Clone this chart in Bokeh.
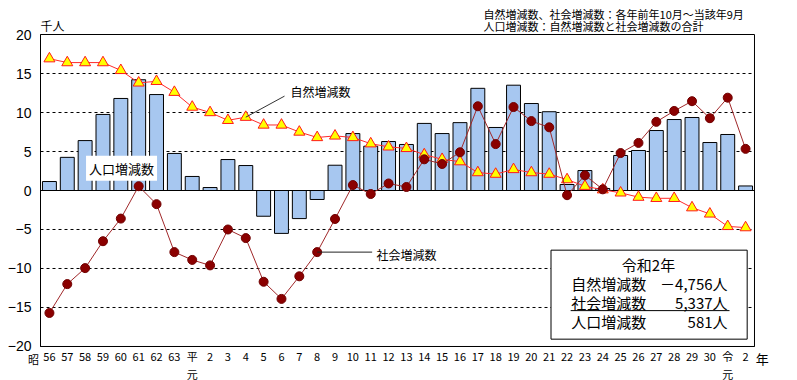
from bokeh.plotting import figure
from bokeh.models import FixedTicker, Label, BoxAnnotation, Arrow
from bokeh.embed import file_html
from bokeh.resources import INLINE

# ---- data (thousand persons) ----
tick_labels = ["56", "57", "58", "59", "60", "61", "62", "63",
               "平", "2", "3", "4", "5", "6", "7", "8", "9", "10",
               "11", "12", "13", "14", "15", "16", "17", "18", "19", "20",
               "21", "22", "23", "24", "25", "26", "27", "28", "29", "30",
               "令", "2"]
# second line of the era-start labels (平元, 令元)
tick_second_line = {8: "元", 38: "元"}
total = [1.15, 4.25, 6.4, 9.75, 11.8, 14.2, 12.3, 4.75,
         1.8, 0.38, 3.97, 3.2, -3.3, -5.5, -3.6, -1.15, 3.24, 7.3,
         5.68, 6.28, 5.9, 8.6, 7.3, 8.7, 13.1, 8.08, 13.5, 11.15,
         10.1, 0.77, 2.56, 0.26, 4.49, 5.13, 7.69, 9.1, 9.36, 6.15,
         7.18, 0.581]
natural = [16.9, 16.4, 16.4, 16.4, 15.4, 13.8, 14.0, 12.6,
           10.7, 10.0, 9.0, 9.4, 8.4, 8.4, 7.5, 6.8, 7.0, 6.8,
           6.0, 5.6, 5.4, 4.6, 4.0, 3.7, 2.3, 2.1, 2.7, 2.3,
           2.1, 1.4, 0.55, 0.1, -0.3, -0.85, -1.0, -1.0, -2.2, -3.0,
           -4.6, -4.756]
social = [-15.7, -12.0, -9.95, -6.5, -3.6, 0.55, -1.75, -7.9,
          -8.9, -9.6, -5.0, -6.1, -11.7, -13.9, -11.0, -7.9, -3.65, 0.7,
          -0.45, 0.9, 0.45, 4.0, 3.4, 4.9, 10.8, 5.95, 10.7, 8.9,
          8.1, -0.6, 1.95, 0.15, 4.8, 6.1, 8.8, 10.2, 11.45, 9.27,
          11.9, 5.337]
y_ticks = [-20, -15, -10, -5, 0, 5, 10, 15, 20]
grid_ticks = [-15, -10, -5, 5, 10, 15]

box_title = "令和2年"
box_names = ["自然増減数", "社会増減数", "人口増減数"]
box_values = ["－4,756人", "5,337人", "581人"]
notes = ["自然増減数、社会増減数：各年前年10月～当該年9月",
         "人口増減数：自然増減数と社会増減数の合計"]

JP = "Noto Sans CJK JP"
idx = list(range(len(tick_labels)))
X0, X1 = -0.5, len(idx) - 0.5
Y0, Y1 = y_ticks[0], y_ticks[-1]

p = figure(width=789, height=380, output_backend="svg", toolbar_location=None,
           title=None, x_range=(-2.741, 41.461), y_range=(-24.359, 24.359),
           min_border=0)
p.outline_line_color = None
p.background_fill_color = "white"
p.border_fill_color = "white"
p.grid.visible = False

# axes placed on the chart box
p.yaxis.fixed_location = X0
p.yaxis.bounds = (Y0, Y1)
p.yaxis.ticker = FixedTicker(ticks=y_ticks)
p.yaxis.axis_line_color = "black"
p.yaxis.major_tick_line_color = None
p.yaxis.minor_tick_line_color = None
p.yaxis.major_tick_out = 0
p.yaxis.major_tick_in = 0
p.yaxis.major_label_standoff = 9
p.yaxis.major_label_text_font = "Liberation Sans"
p.yaxis.major_label_text_font_size = "14px"
p.yaxis.major_label_text_color = "black"

p.xaxis.fixed_location = Y0
p.xaxis.bounds = (X0, X1)
p.xaxis.ticker = FixedTicker(ticks=idx)
p.xaxis.major_label_overrides = {i: t for i, t in zip(idx, tick_labels)}
p.xaxis.axis_line_color = "black"
p.xaxis.major_tick_line_color = None
p.xaxis.minor_tick_line_color = None
p.xaxis.major_tick_out = 0
p.xaxis.major_tick_in = 0
p.xaxis.major_label_standoff = 2
p.xaxis.major_label_text_font = JP
p.xaxis.major_label_text_font_size = "11px"
p.xaxis.major_label_text_color = "black"

# dashed grid lines inside the box
p.segment(x0=X0, y0=grid_ticks, x1=X1, y1=grid_ticks, line_color="black",
          line_dash="3 3", line_width=1)

# bars
p.vbar(x=idx, top=total, width=0.78, fill_color="#a7c7f0",
       line_color="black", line_width=1)
p.segment(x0=[X0], y0=[0], x1=[X1], y1=[0], line_color="black", line_width=1)

# natural
p.line(idx, natural, line_color="#ff2a2a", line_width=1)
p.scatter(idx, natural, marker="triangle", size=11, fill_color="#ffff00",
          line_color="#ff1a1a", line_width=1)

# social
p.line(idx, social, line_color="#a0282a", line_width=1)
p.scatter(idx, social, marker="circle", size=9, fill_color="#8b0000",
          line_color="#700000", line_width=1)

# chart box
p.add_layout(BoxAnnotation(left=X0, right=X1, bottom=Y0, top=Y1, fill_alpha=0,
                           line_color="black", line_alpha=1, line_width=1))

# annotations inside plot
p.add_layout(Arrow(end=None, x_start=11, y_start=natural[11], x_end=13.17, y_end=12.1,
                   line_color="#333333", line_width=1))
p.add_layout(Label(x=13.5, y=12.64, text="自然増減数", text_font=JP,
                   text_font_size="12px", text_baseline="middle", text_color="black"))

p.add_layout(Arrow(end=None, x_start=15, y_start=social[15], x_end=18.08, y_end=social[15],
                   line_color="#222222", line_width=1))
p.add_layout(Label(x=18.32, y=social[15], y_offset=-2, text="社会増減数", text_font=JP,
                   text_font_size="12px", text_baseline="middle", text_color="black"))

p.add_layout(Label(x=4.04, y=2.86, text="人口増減数", text_font=JP, text_font_size="13px",
                   text_align="center", text_baseline="middle", text_color="black",
                   background_fill_color="white", background_fill_alpha=1, padding=3))

# unit and notes
p.add_layout(Label(x=X0, y=21.15, text="千人", text_font=JP, text_font_size="12px",
                   text_baseline="middle", text_color="black"))
p.add_layout(Label(x=24.32, y=22.69, text=notes[0], text_font=JP, text_font_size="11px",
                   text_baseline="middle", text_color="black"))
p.add_layout(Label(x=24.32, y=21.15, text=notes[1], text_font=JP, text_font_size="11px",
                   text_baseline="middle", text_color="black"))
p.add_layout(Label(x=-0.89, y=-21.54, text="昭", text_font=JP, text_font_size="11px",
                   text_align="center", text_baseline="middle", text_color="black"))
p.add_layout(Label(x=39.93, y=-21.54, text="年", text_font=JP, text_font_size="13px",
                   text_align="center", text_baseline="middle", text_color="black"))
for i, t in tick_second_line.items():
    p.add_layout(Label(x=i, y=-21.54, y_offset=-15, text=t, text_font=JP,
                       text_font_size="11px", text_align="center",
                       text_baseline="middle", text_color="black"))

# summary box
p.add_layout(BoxAnnotation(left=28.1, right=39.09, top=-7.65, bottom=-19.06,
                           fill_color="white", fill_alpha=1, line_color="black",
                           line_alpha=1, line_width=1))
p.add_layout(Label(x=33.56, y=-9.45, text=box_title, text_font=JP, text_font_size="15px",
                   text_align="center", text_baseline="middle", text_color="black"))
row_y = [-11.92, -14.35, -16.8]
for name, val, yy in zip(box_names, box_values, row_y):
    p.add_layout(Label(x=29.23, y=yy, text=name, text_font=JP, text_font_size="15px",
                       text_baseline="middle", text_color="black"))
    p.add_layout(Label(x=37.99, y=yy, text=val, text_font=JP, text_font_size="15px",
                       text_align="right", text_baseline="middle", text_color="black"))
p.add_layout(Arrow(end=None, x_start=29.2, y_start=-15.4, x_end=38.1, y_end=-15.4,
                   line_color="black", line_width=1))

open("out.html", "w").write(file_html(p, INLINE))
